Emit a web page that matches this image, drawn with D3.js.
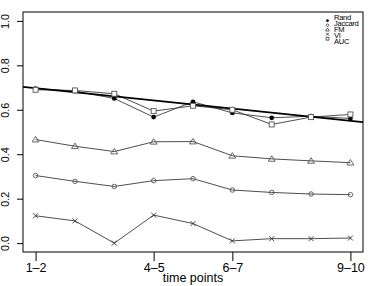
<!DOCTYPE html>
<html>
<head>
<meta charset="utf-8">
<script src="https://cdn.jsdelivr.net/npm/d3@7"></script>
<style>
  body { margin: 0; background: #fff; }
  svg { display: block; font-family: "Liberation Sans", Arial, sans-serif; }
</style>
</head>
<body>
<svg id="chart" width="374" height="286"></svg>
<script>
// time points along the x axis
const timePoints = ["1-2", "2-3", "3-4", "4-5", "5-6", "6-7", "7-8", "8-9", "9-10"];
const labelledTicks = ["1-2", "4-5", "6-7", "9-10"];
const yTicks = [0, 0.2, 0.4, 0.6, 0.8, 1.0];

// index values
const rand    = [0.695, 0.684, 0.651, 0.567, 0.636, 0.586, 0.564, 0.571, 0.561];
const jaccard = [0.304, 0.278, 0.255, 0.281, 0.290, 0.239, 0.228, 0.221, 0.218];
const fm      = [0.466, 0.436, 0.412, 0.456, 0.457, 0.393, 0.379, 0.370, 0.362];
const vi      = [0.123, 0.100, 0.000, 0.126, 0.088, 0.010, 0.020, 0.020, 0.023];
const auc     = [0.690, 0.687, 0.672, 0.594, 0.618, 0.600, 0.534, 0.567, 0.579];

// fitted trend line (value at first time point, change per step)
const trendIntercept = 0.697;
const trendSlope = -0.0183;

const seriesNames = ["Rand", "Jaccard", "FM", "VI", "AUC"];
const seriesValues = [rand, jaccard, fm, vi, auc];
const seriesSymbols = ["dot", "circle", "triangle", "cross", "square"];

const box = { left: 23, right: 363, top: 12, bottom: 252 };

const svg = d3.select("#chart");

// R style: 4% padding on each side of the data range
const x = d3.scaleLinear()
  .domain([-0.32, timePoints.length - 1 + 0.32])
  .range([box.left, box.right]);
const y = d3.scaleLinear()
  .domain([-0.04, 1.04])
  .range([box.bottom, box.top]);

svg.append("clipPath").attr("id", "plotclip")
  .append("rect")
  .attr("x", box.left).attr("y", box.top)
  .attr("width", box.right - box.left).attr("height", box.bottom - box.top);

// draw a symbol like R's pch
function drawSymbol(g, kind, cx, cy, s) {
  if (kind === "dot") {
    g.append("circle").attr("cx", cx).attr("cy", cy).attr("r", s * 0.95).attr("fill", "#000");
  } else if (kind === "circle") {
    g.append("circle").attr("cx", cx).attr("cy", cy).attr("r", s * 0.9)
      .attr("fill", "none").attr("stroke", "#555").attr("stroke-width", 0.9);
  } else if (kind === "triangle") {
    const h = s * 1.25;
    g.append("path")
      .attr("d", `M${cx},${cy - h} L${cx + h * 1.1},${cy + h * 0.75} L${cx - h * 1.1},${cy + h * 0.75} Z`)
      .attr("fill", "none").attr("stroke", "#555").attr("stroke-width", 0.9);
  } else if (kind === "cross") {
    g.append("path")
      .attr("d", `M${cx - s},${cy - s} L${cx + s},${cy + s} M${cx - s},${cy + s} L${cx + s},${cy - s}`)
      .attr("stroke", "#333").attr("stroke-width", 0.9);
  } else if (kind === "square") {
    g.append("rect").attr("x", cx - s).attr("y", cy - s)
      .attr("width", 2 * s).attr("height", 2 * s)
      .attr("fill", "#fff").attr("stroke", "#555").attr("stroke-width", 0.9);
  }
}

const plot = svg.append("g").attr("clip-path", "url(#plotclip)");

const line = d3.line().x((d, i) => x(i)).y(d => y(d));

seriesValues.forEach((vals, k) => {
  plot.append("path")
    .attr("d", line(vals))
    .attr("fill", "none")
    .attr("stroke", "#3a3a3a")
    .attr("stroke-width", 0.9);
});

// abline across the whole plot region
const [x0, x1] = x.domain();
plot.append("line")
  .attr("x1", x(x0)).attr("y1", y(trendIntercept + trendSlope * x0))
  .attr("x2", x(x1)).attr("y2", y(trendIntercept + trendSlope * x1))
  .attr("stroke", "#000")
  .attr("stroke-width", 1.7);

seriesValues.forEach((vals, k) => {
  const g = plot.append("g");
  vals.forEach((v, i) => drawSymbol(g, seriesSymbols[k], x(i), y(v), 2.5));
});

// box
svg.append("rect")
  .attr("x", box.left).attr("y", box.top)
  .attr("width", box.right - box.left).attr("height", box.bottom - box.top)
  .attr("fill", "none").attr("stroke", "#000").attr("stroke-width", 1);

// x axis
const xAxis = d3.axisBottom(x)
  .tickValues(labelledTicks.map(t => timePoints.indexOf(t)))
  .tickFormat(i => timePoints[i].replace("-", "\u2013"))
  .tickSize(9)
  .tickPadding(2);
const gx = svg.append("g")
  .attr("transform", `translate(0,${box.bottom})`)
  .call(xAxis);
gx.select(".domain").remove();
gx.selectAll("line").attr("stroke", "#000");
gx.selectAll("text").attr("font-size", 12.5).attr("fill", "#000")
  .attr("font-family", "Liberation Sans, Arial, sans-serif");

svg.append("text")
  .attr("x", (box.left + box.right) / 2)
  .attr("y", 282)
  .attr("text-anchor", "middle")
  .attr("font-size", 12.5)
  .attr("fill", "#000")
  .text("time points");

// y axis
const yAxis = d3.axisLeft(y)
  .tickValues(yTicks)
  .tickFormat(d3.format(".1f"))
  .tickSize(6);
const gy = svg.append("g")
  .attr("transform", `translate(${box.left},0)`)
  .call(yAxis);
gy.select(".domain").remove();
gy.selectAll("line").attr("stroke", "#000");
gy.selectAll("text")
  .attr("font-size", 10.8)
  .attr("fill", "#000")
  .attr("font-family", "Liberation Sans, Arial, sans-serif")
  .attr("x", null).attr("dy", null)
  .attr("text-anchor", "middle")
  .attr("transform", "translate(-14,0) rotate(-90)");

// legend (no border), text clipped by the plot box
const legend = svg.append("g").attr("clip-path", "url(#plotclip)");
const legX = 327.5, symTop = 20.7, symStep = 4.5, textTop = 17.4, textStep = 6;
seriesNames.forEach((name, k) => {
  drawSymbol(legend, seriesSymbols[k], legX, symTop + k * symStep, 1.4);
  legend.append("text")
    .attr("x", legX + 6.5)
    .attr("y", textTop + k * textStep)
    .attr("dy", "0.35em")
    .attr("font-size", 7.6)
    .attr("letter-spacing", -0.3)
    .attr("fill", "#000")
    .text(name);
});
</script>
</body>
</html>
